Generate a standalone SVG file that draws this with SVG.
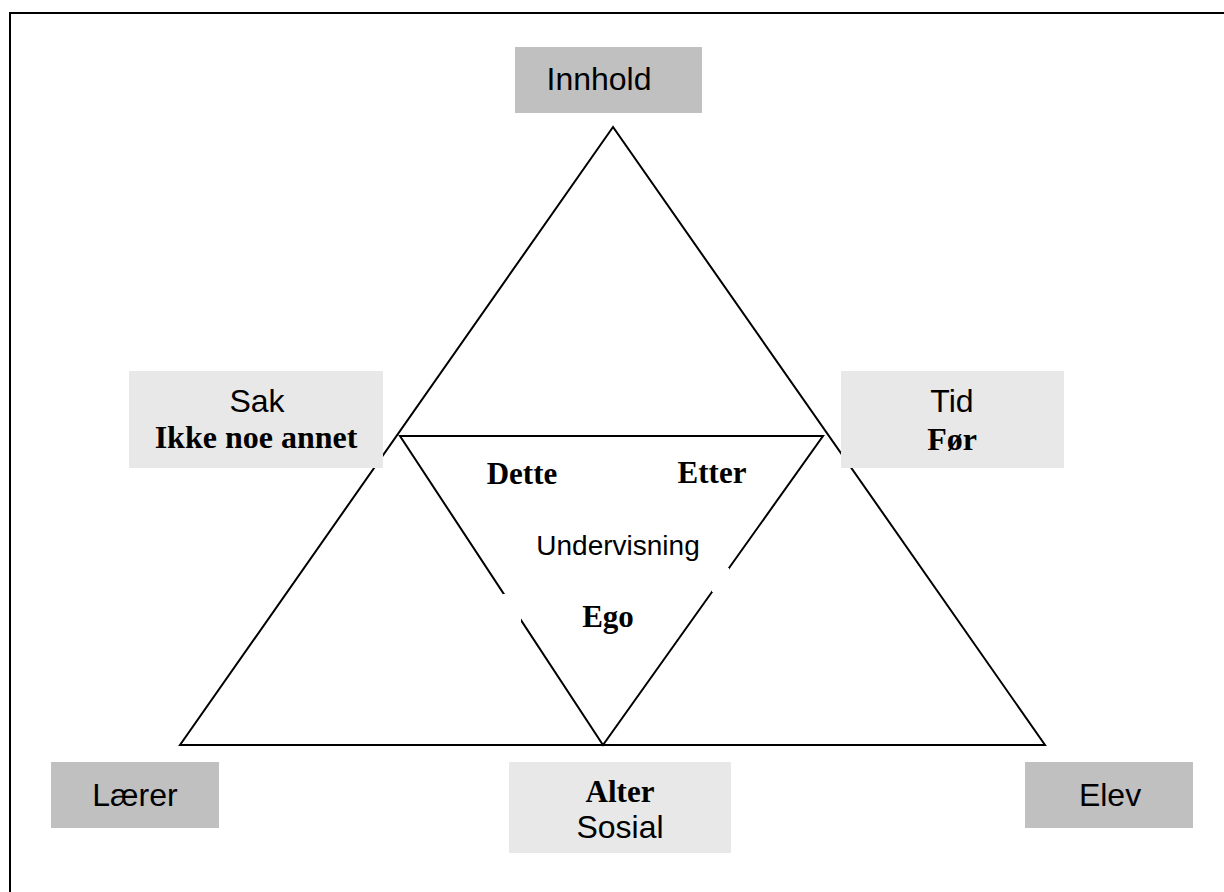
<svg xmlns="http://www.w3.org/2000/svg" width="1224" height="892" viewBox="0 0 1224 892">
<style>
.dark{fill:#c0c0c0}
.light{fill:#e8e8e8}
.ln{stroke:#000;stroke-width:2;fill:none}
.sans{font-family:"Liberation Sans",Arial,sans-serif;fill:#000;text-anchor:middle}
.serif{font-family:"Liberation Serif","Times New Roman",serif;font-weight:bold;fill:#000;text-anchor:middle}
</style>
<rect x="0" y="0" width="1224" height="892" fill="#fff"/>
<rect x="10" y="13" width="1240" height="900" class="ln"/>
<g id="connectors">
<polygon points="613,127 180,745 1045,745" class="ln"/>
<polygon points="400,436 823,436 603,745" class="ln"/>
</g>
<g id="inner-gaps">
<rect x="503" y="594" width="18" height="28" fill="#fff"/>
<rect x="712" y="568" width="17" height="24" fill="#fff"/>
</g>
<g id="innhold">
<rect x="515" y="47" width="187" height="66" class="dark"/>
<text x="599" y="90" class="sans" font-size="32">Innhold</text>
</g>
<g id="sak">
<rect x="129" y="371" width="254" height="97" class="light"/>
<text x="257" y="412" class="sans" font-size="32">Sak</text>
<text x="256" y="448" class="serif" font-size="32">Ikke noe annet</text>
</g>
<g id="tid">
<rect x="841" y="371" width="223" height="97" class="light"/>
<text x="952" y="412" class="sans" font-size="32">Tid</text>
<text x="952" y="450" class="serif" font-size="32">Før</text>
</g>
<g id="undervisning">
<text x="522" y="484" class="serif" font-size="31">Dette</text>
<text x="712" y="483" class="serif" font-size="31">Etter</text>
<text x="618" y="555" class="sans" font-size="28">Undervisning</text>
<text x="608" y="627" class="serif" font-size="31">Ego</text>
</g>
<g id="laerer">
<rect x="51" y="762" width="168" height="66" class="dark"/>
<text x="135" y="806" class="sans" font-size="32">Lærer</text>
</g>
<g id="alter">
<rect x="509" y="762" width="222" height="91" class="light"/>
<text x="620" y="802" class="serif" font-size="31">Alter</text>
<text x="620" y="838" class="sans" font-size="32">Sosial</text>
</g>
<g id="elev">
<rect x="1025" y="762" width="168" height="66" class="dark"/>
<text x="1110" y="806" class="sans" font-size="32">Elev</text>
</g>
</svg>
